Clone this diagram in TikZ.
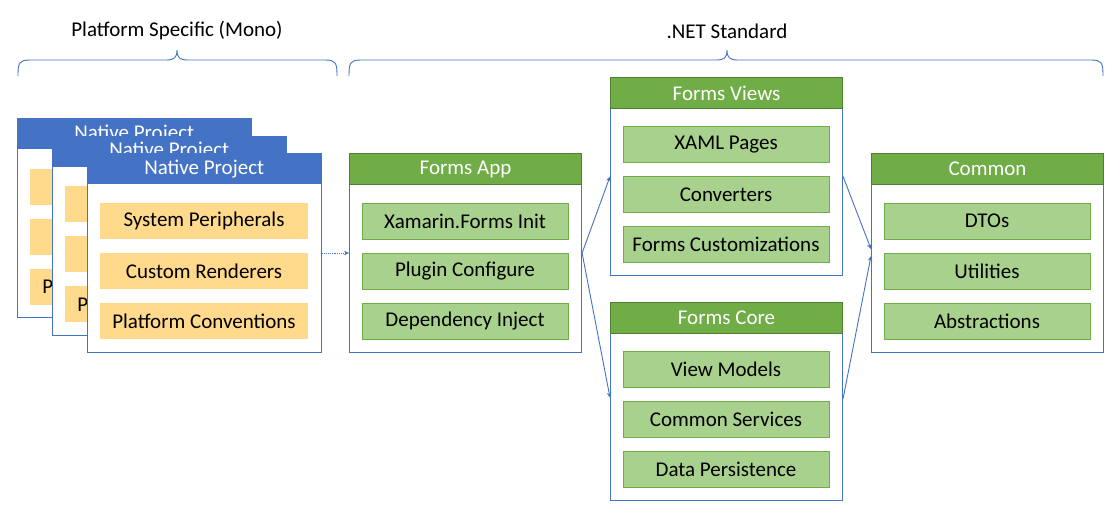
\documentclass[tikz,border=0pt]{standalone}
\usepackage{fontspec}
\setmainfont{Carlito}
\usetikzlibrary{arrows.meta,calc}
\definecolor{oblue}{HTML}{4472C4}
\definecolor{ogreen}{HTML}{70AD47}
\definecolor{odkgreen}{HTML}{507E32}
\definecolor{olgreen}{HTML}{A9D18E}
\definecolor{oyellow}{HTML}{FFD98C}
\begin{document}
\begin{tikzpicture}[x=1pt,y=-1pt,
  font=\fontsize{21}{24}\selectfont,
  cardbody/.style={draw=oblue,line width=1.1pt,fill=white,anchor=north west,inner sep=0pt},
  ghead/.style={draw=odkgreen,line width=1pt,fill=ogreen,text=white,anchor=north west,inner sep=0pt,minimum width=232pt,minimum height=31pt},
  bhead/.style={fill=oblue,text=white,anchor=north west,inner sep=0pt,minimum width=234pt,minimum height=31pt},
  gitem/.style={draw=ogreen,line width=1pt,fill=olgreen,inner sep=0pt,minimum width=206pt,minimum height=36pt},
  yitem/.style={fill=oyellow,inner sep=0pt,minimum width=208pt,minimum height=36pt},
  conn/.style={draw=oblue,line width=0.9pt,-{Stealth[length=5pt,width=4.5pt]}},
  bracepath/.style={draw=oblue,line width=0.9pt},
  lbl/.style={inner sep=0pt}]
\useasboundingbox (0,0) rectangle (1120,512);

% top labels and braces
\node[lbl] (lplat) at (177,31) {Platform Specific (Mono)};
\node[lbl] (lnet) at (727,31) {.NET Standard};
\draw[bracepath] (18,76) .. controls (18,63) and (19,60) .. (30,60) -- (166,60)
  .. controls (174,60) and (177,58) .. (177,50)
  .. controls (177,58) and (180,60) .. (188,60) -- (325,60)
  .. controls (336,60) and (337,63) .. (337,76);
\draw[bracepath] (349,76) .. controls (349,63) and (350,60) .. (361,60) -- (716,60)
  .. controls (724,60) and (727,58) .. (727,50)
  .. controls (727,58) and (730,60) .. (738,60) -- (1091,60)
  .. controls (1102,60) and (1103,63) .. (1103,76);

% native project cards (back to front)
\node[cardbody,minimum width=234pt,minimum height=199pt] (nbbody) at (17,118) {};
\node[bhead] (nbhead) at (17,118) {Native Project};
\node[yitem] (nbi1) at (134,186.5) {System Peripherals};
\node[yitem] (nbi2) at (134,236.5) {Custom Renderers};
\node[yitem] (nbi3) at (134,286.5) {Platform Conventions};

\node[cardbody,minimum width=234pt,minimum height=199pt] (nmbody) at (52,135.5) {};
\node[bhead] (nmhead) at (52,135.5) {Native Project};
\node[yitem] (nmi1) at (169,204) {System Peripherals};
\node[yitem] (nmi2) at (169,254) {Custom Renderers};
\node[yitem] (nmi3) at (169,304) {Platform Conventions};

\node[cardbody,minimum width=234pt,minimum height=199pt] (nfbody) at (87,153) {};
\node[bhead] (nfhead) at (87,153) {Native Project};
\node[yitem] (nfi1) at (204,221) {System Peripherals};
\node[yitem] (nfi2) at (204,271) {Custom Renderers};
\node[yitem] (nfi3) at (204,321) {Platform Conventions};

% Forms App
\node[cardbody,minimum width=232pt,minimum height=199pt] (appbody) at (349,153) {};
\node[ghead] (apphead) at (349,153) {Forms App};
\node[gitem] (appi1) at (465,221) {Xamarin.Forms Init};
\node[gitem] (appi2) at (465,271) {Plugin Configure};
\node[gitem] (appi3) at (465,321) {Dependency Inject};

% Forms Views
\node[cardbody,minimum width=232pt,minimum height=198pt] (viewsbody) at (610,77) {};
\node[ghead] (viewshead) at (610,77) {Forms Views};
\node[gitem] (viewsi1) at (726,144.5) {XAML Pages};
\node[gitem] (viewsi2) at (726,194.5) {Converters};
\node[gitem] (viewsi3) at (726,244.5) {Forms Customizations};

% Forms Core
\node[cardbody,minimum width=232pt,minimum height=198pt] (corebody) at (610,302) {};
\node[ghead] (corehead) at (610,302) {Forms Core};
\node[gitem] (corei1) at (726,369.5) {View Models};
\node[gitem] (corei2) at (726,419.5) {Common Services};
\node[gitem] (corei3) at (726,469.5) {Data Persistence};

% Common
\node[cardbody,minimum width=232pt,minimum height=199pt] (commonbody) at (871,153) {};
\node[ghead] (commonhead) at (871,153) {Common};
\node[gitem] (commoni1) at (987,221) {DTOs};
\node[gitem] (commoni2) at (987,271) {Utilities};
\node[gitem] (commoni3) at (987,321) {Abstractions};

% connectors
\draw[conn,densely dotted] (nfbody.east) -- (appbody.west);
\draw[conn] (appbody.east) -- (viewsbody.west);
\draw[conn] (appbody.east) -- ($(corebody.west)+(0,-4)$);
\draw[conn] (viewsbody.east) -- ($(commonbody.west)+(0,-4)$);
\draw[conn] ($(corebody.east)+(0,-3)$) -- ($(commonbody.west)+(0,3)$);
\end{tikzpicture}
\end{document}
